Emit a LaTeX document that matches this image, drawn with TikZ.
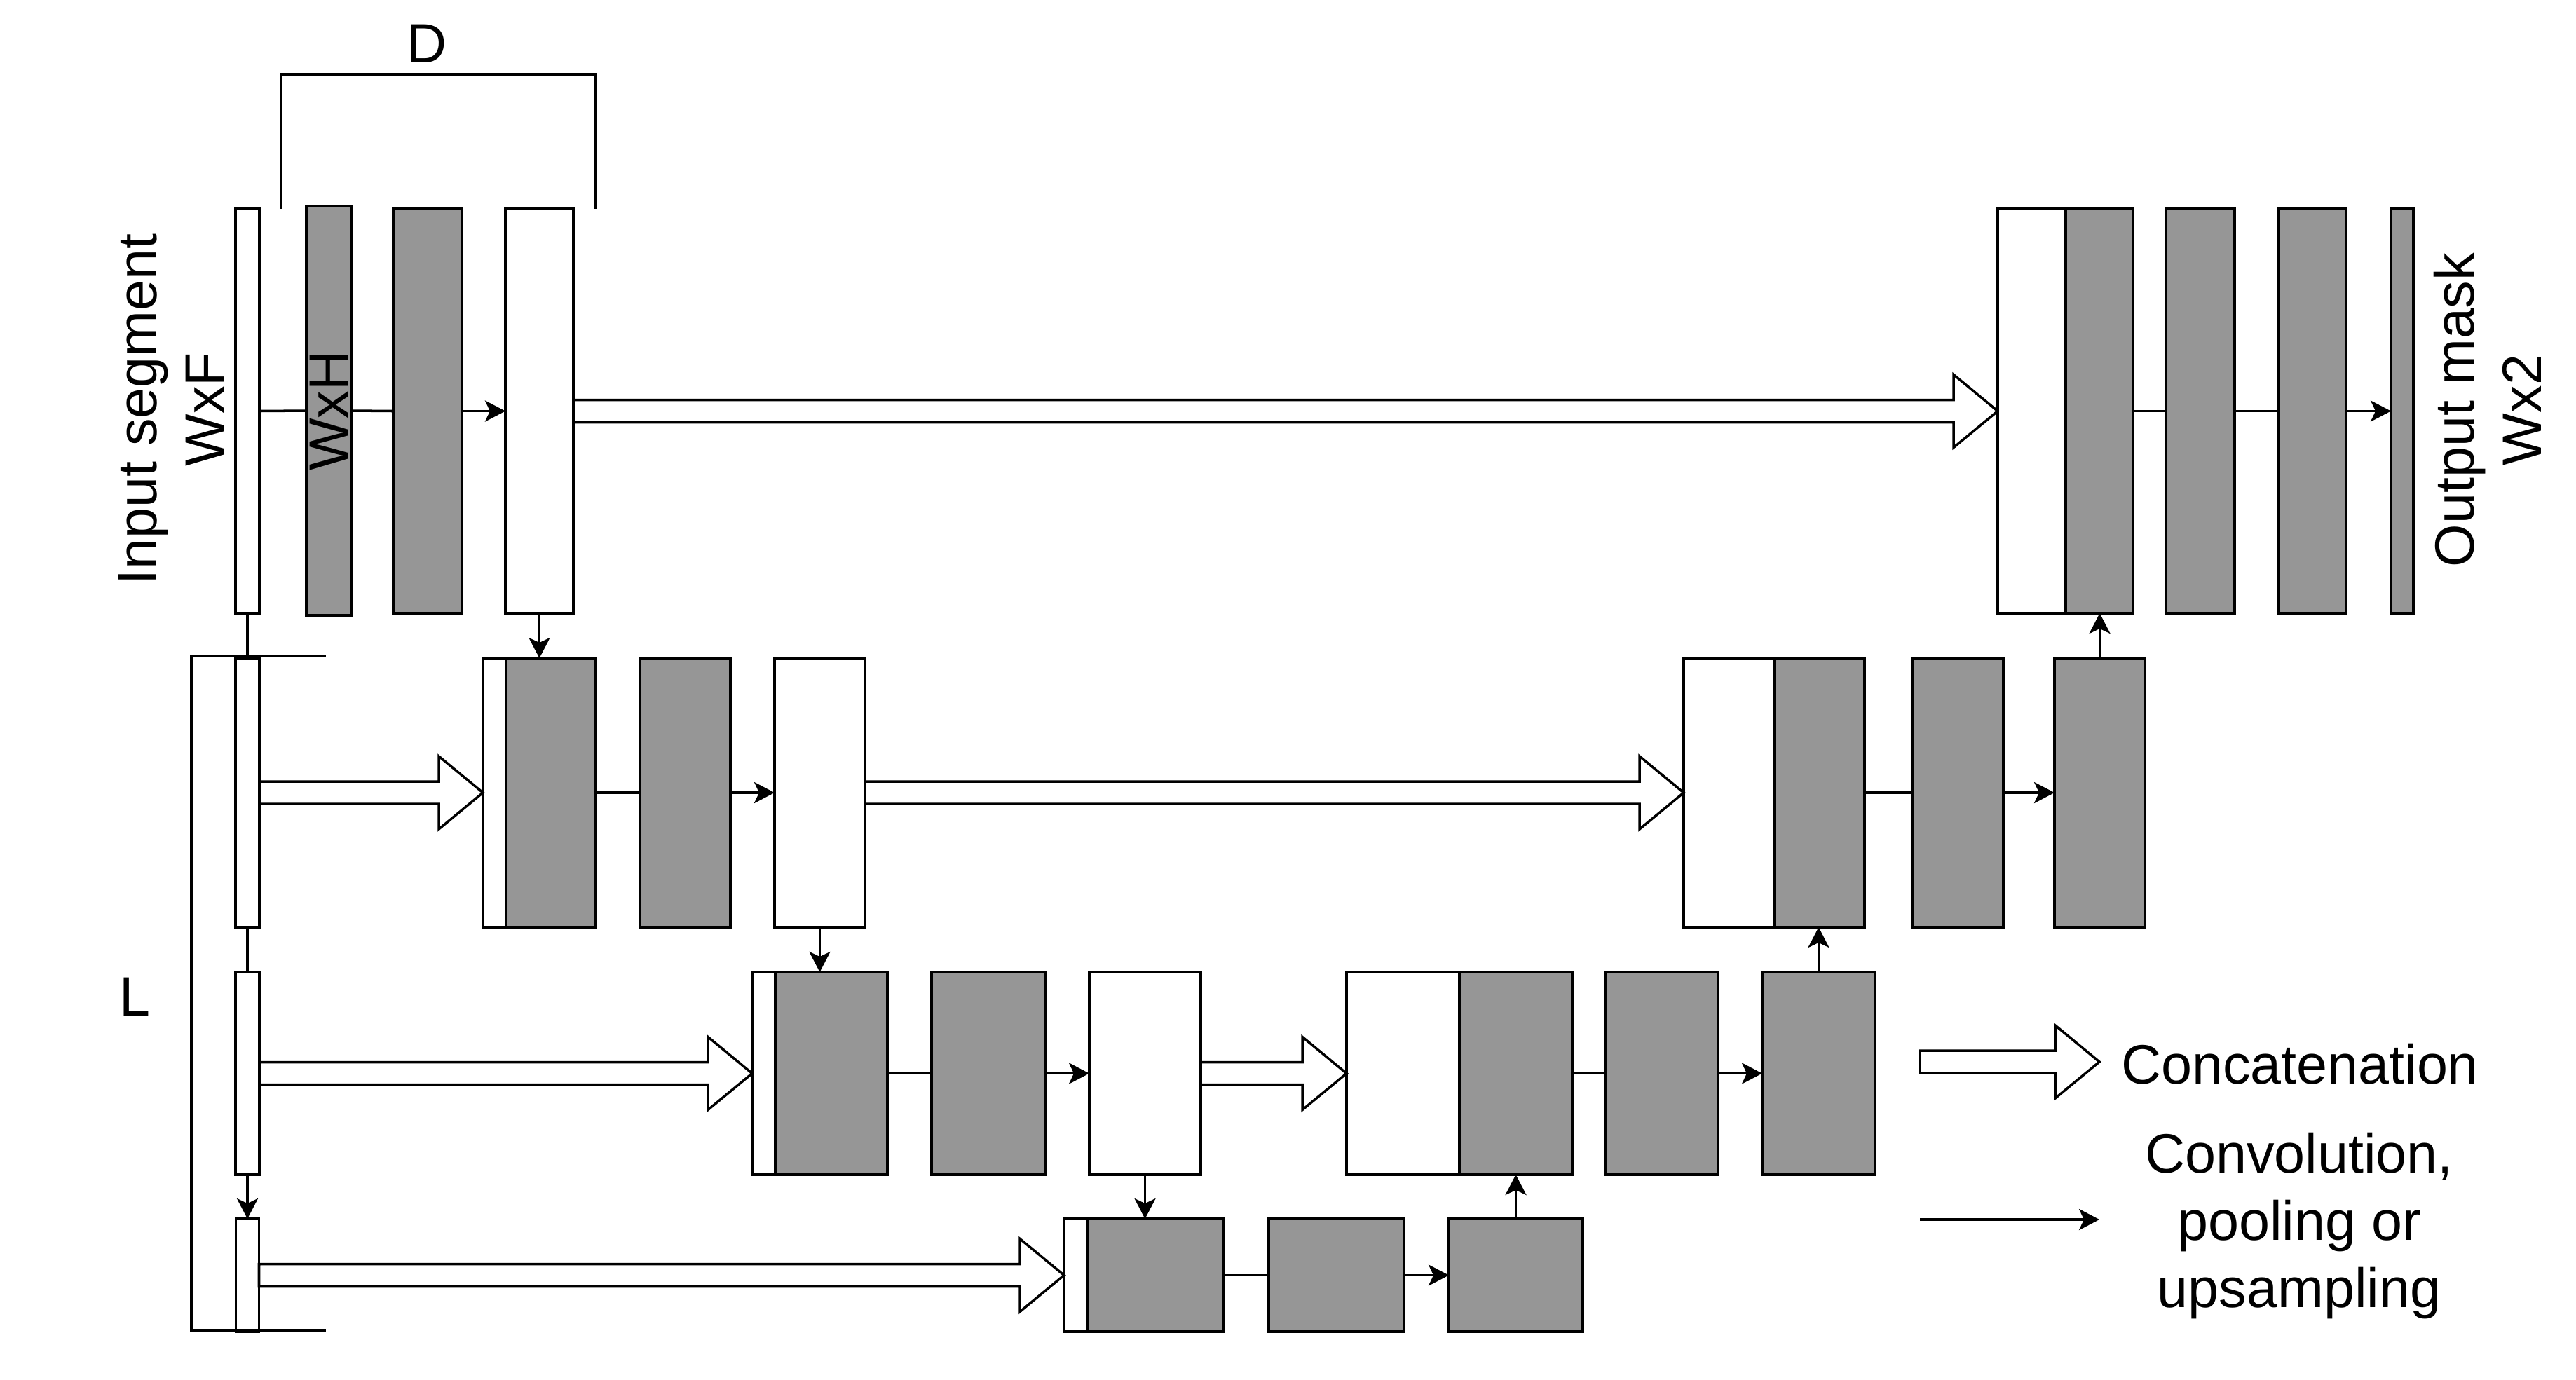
\documentclass[tikz,border=0pt]{standalone}
\usepackage{fontspec}
\setmainfont{Liberation Sans}
\usetikzlibrary{arrows.meta,calc}

\definecolor{layergray}{RGB}{150,150,150}

\tikzset{
	layer/.style={draw, line width=1pt, inner sep=0pt, outer sep=0pt, anchor=west},
	conv/.style={layer, fill=layergray},
	feat/.style={layer, fill=white},
	row0/.style={minimum height=5.77cm},
	row1/.style={minimum height=3.84cm},
	row2/.style={minimum height=2.89cm},
	row3/.style={minimum height=1.61cm},
	conn/.style={line width=1pt},
	flow/.style={conn, -{Stealth[length=0.29cm,width=0.30cm,inset=0.07cm]}},
	catline/.style={line width=1pt, line join=miter},
}

% hollow block arrow from #1 to the tip #2
\newcommand{\concat}[2]{%
	\draw[catline] ($#1+(0,-0.16)$) -- ($#2+(-0.63,-0.16)$) -- ($#2+(-0.63,-0.52)$) -- #2
		-- ($#2+(-0.63,0.52)$) -- ($#2+(-0.63,0.16)$) -- ($#1+(0,0.16)$) -- cycle;}

\begin{document}
\begin{tikzpicture}[x=1cm, y=-1cm, font=\fontsize{22.5}{27.3}\selectfont]
	\useasboundingbox (0,0) rectangle (36.75,19.68);

	% row 0
	\node[feat,row0,minimum width=0.34cm] (in0) at (3.36,5.865) {};
	\node[conv,minimum height=5.84cm,minimum width=0.65cm] (c0a) at (4.37,5.86) {};
	\node[rotate=90] (wxh) at (c0a.center) {WxH};
	\node[conv,row0,minimum width=0.98cm] (c0b) at (5.61,5.865) {};
	\node[feat,row0,minimum width=0.97cm] (p0) at (7.21,5.865) {};
	\node[feat,row0,minimum width=0.97cm] (u0w) at (28.50,5.865) {};
	\node[conv,row0,minimum width=0.96cm] (u0g) at (u0w.east) {};
	\node[conv,row0,minimum width=0.98cm] (d0a) at (30.90,5.865) {};
	\node[conv,row0,minimum width=0.96cm] (d0b) at (32.51,5.865) {};
	\node[conv,row0,minimum width=0.32cm] (outmask) at (34.11,5.865) {};

	% row 1
	\node[feat,row1,minimum width=0.34cm] (in1) at (3.36,11.31) {};
	\node[feat,row1,minimum width=0.33cm] (c1w) at (6.89,11.31) {};
	\node[conv,row1,minimum width=1.28cm] (c1g) at (c1w.east) {};
	\node[conv,row1,minimum width=1.29cm] (c1b) at (9.13,11.31) {};
	\node[feat,row1,minimum width=1.29cm] (p1) at (11.05,11.31) {};
	\node[feat,row1,minimum width=1.29cm] (u1w) at (24.02,11.31) {};
	\node[conv,row1,minimum width=1.29cm] (u1g) at (u1w.east) {};
	\node[conv,row1,minimum width=1.29cm] (d1a) at (27.29,11.31) {};
	\node[conv,row1,minimum width=1.29cm] (d1b) at (29.31,11.31) {};

	% row 2
	\node[feat,row2,minimum width=0.34cm] (in2) at (3.36,15.315) {};
	\node[feat,row2,minimum width=0.33cm] (c2w) at (10.73,15.315) {};
	\node[conv,row2,minimum width=1.60cm] (c2g) at (c2w.east) {};
	\node[conv,row2,minimum width=1.62cm] (c2b) at (13.29,15.315) {};
	\node[feat,row2,minimum width=1.59cm] (p2) at (15.54,15.315) {};
	\node[feat,row2,minimum width=1.61cm] (u2w) at (19.21,15.315) {};
	\node[conv,row2,minimum width=1.61cm] (u2g) at (u2w.east) {};
	\node[conv,row2,minimum width=1.60cm] (d2a) at (22.91,15.315) {};
	\node[conv,row2,minimum width=1.61cm] (d2b) at (25.14,15.315) {};

	% row 3
	\node[feat,row3,minimum width=0.33cm] (in3) at (3.365,18.195) {};
	\node[feat,row3,minimum width=0.34cm] (c3w) at (15.18,18.195) {};
	\node[conv,row3,minimum width=1.93cm] (c3g) at (c3w.east) {};
	\node[conv,row3,minimum width=1.93cm] (c3b) at (18.10,18.195) {};
	\node[conv,row3,minimum width=1.91cm] (c3c) at (20.67,18.195) {};

	% horizontal links
	\draw[conn] (in0.east) -- (c0a.west);
	\draw[conn] (c0a.east) -- (c0b.west);
	\draw[flow] (c0b.east) -- (p0.west);
	\draw[conn] (u0g.east) -- (d0a.west);
	\draw[conn] (d0a.east) -- (d0b.west);
	\draw[flow] (d0b.east) -- (outmask.west);
	\draw[conn] (c1g.east) -- (c1b.west);
	\draw[flow] (c1b.east) -- (p1.west);
	\draw[conn] (u1g.east) -- (d1a.west);
	\draw[flow] (d1a.east) -- (d1b.west);
	\draw[conn] (c2g.east) -- (c2b.west);
	\draw[flow] (c2b.east) -- (p2.west);
	\draw[conn] (u2g.east) -- (d2a.west);
	\draw[flow] (d2a.east) -- (d2b.west);
	\draw[conn] (c3g.east) -- (c3b.west);
	\draw[flow] (c3b.east) -- (c3c.west);

	% vertical links
	\draw[conn] (in0.south) -- (in1.north);
	\draw[conn] (in1.south) -- (in2.north);
	\draw[flow] (in2.south) -- (in3.north);
	\draw[flow] (p0.south) -- (p0.south |- c1g.north);
	\draw[flow] (p1.south) -- (p1.south |- c2g.north);
	\draw[flow] (p2.south) -- (p2.south |- c3g.north);
	\draw[flow] (c3c.north) -- (c3c.north |- u2g.south);
	\draw[flow] (d2b.north) -- (d2b.north |- u1g.south);
	\draw[flow] (d1b.north) -- (d1b.north |- u0g.south);

	% concatenations
	\concat{(p0.east)}{(u0w.west)}
	\concat{(in1.east)}{(c1w.west)}
	\concat{(p1.east)}{(u1w.west)}
	\concat{(in2.east)}{(c2w.west)}
	\concat{(p2.east)}{(u2w.west)}
	\concat{(in3.east)}{(c3w.west)}

	% brackets and labels
	\draw[conn] (4.01,2.98) -- (4.01,1.06) -- (8.49,1.06) -- (8.49,2.98);
	\node (dlbl) at (6.09,0.62) {D};
	\draw[conn] (4.65,9.36) -- (2.73,9.36) -- (2.73,18.98) -- (4.65,18.98);
	\node (llbl) at (1.92,14.22) {L};
	\node[rotate=90, align=center] (inlbl) at (2.44,5.84) {Input segment\\WxF};
	\node[rotate=90, align=center] (outlbl) at (35.49,5.85) {Output mask\\Wx2};

	% legend
	\coordinate (lc1) at (27.39,15.15);
	\coordinate (lc2) at (29.95,15.15);
	\concat{(lc1)}{(lc2)}
	\node (catlbl) at (32.81,15.18) {Concatenation};
	\coordinate (lf1) at (27.39,17.40);
	\coordinate (lf2) at (29.95,17.40);
	\draw[flow] (lf1) -- (lf2);
	\node[align=center] (convlbl) at (32.80,17.49) {Convolution,\\pooling or\\upsampling};
\end{tikzpicture}
\end{document}
